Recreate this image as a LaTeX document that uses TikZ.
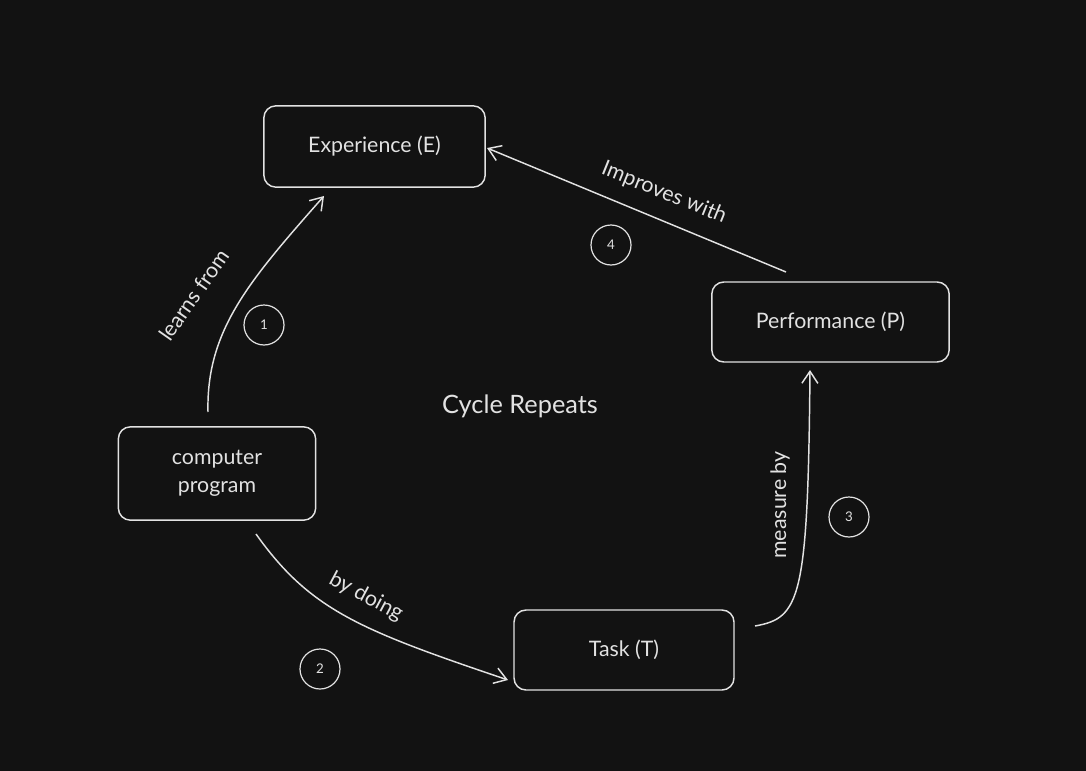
\documentclass[tikz,border=0pt]{standalone}
\usepackage{fontspec}
\setmainfont{Lato}
\usepackage{tikz}
\usetikzlibrary{arrows.meta}
\definecolor{bgdark}{HTML}{121212}
\definecolor{inkl}{HTML}{E2E2E2}
\tikzset{
  box/.style={draw=inkl,line width=1.1pt,rounded corners=9pt,text=inkl,align=center,font=\fontsize{16}{21}\selectfont},
  marker/.style={draw=inkl,circle,line width=0.9pt,minimum size=30pt,inner sep=0pt,text=inkl,font=\fontsize{10}{12}\selectfont},
  link/.style={draw=inkl,line width=1.1pt,-{Straight Barb[length=9pt,width=12pt]}},
  tag/.style={text=inkl,font=\fontsize{16}{19}\selectfont,inner sep=0pt}
}
\begin{document}
\begin{tikzpicture}[x=0.75pt,y=0.75pt,yscale=-1,xscale=1]
\fill[bgdark] (0,0) rectangle (1086,771);
\useasboundingbox (0,0) rectangle (1086,771);
% boxes
\node[box,minimum width=166pt,minimum height=61pt] (exp) at (374.5,146.5) {Experience (E)};
\node[box,minimum width=178pt,minimum height=60pt] (perf) at (830.5,322) {Performance (P)};
\node[box,minimum width=148pt,minimum height=70pt] (prog) at (217,473.5) {computer\\program};
\node[box,minimum width=165pt,minimum height=60pt] (task) at (624,650) {Task (T)};
\node[tag,font=\fontsize{19}{23}\selectfont] (cyc) at (520,406) {Cycle Repeats};
% step markers
\node[marker] (s1) at (264,325) {1};
\node[marker] (s2) at (320,669) {2};
\node[marker] (s3) at (849,517) {3};
\node[marker] (s4) at (611,245) {4};
% ends of connectors
\coordinate (p1) at (208,412);
\coordinate (e1) at (324,196);
\coordinate (p2) at (256,534);
\coordinate (t2) at (508,680);
\coordinate (t3) at (755,626);
\coordinate (f3) at (810,370);
\coordinate (f4) at (786,272);
\coordinate (e4) at (487,148);
% connectors
\draw[link] (p1) .. controls (206,330) and (250,280) .. (e1);
\draw[link] (p2) .. controls (310,610) and (360,630) .. (t2);
\draw[link] (t3) .. controls (800,618) and (808,600) .. (f3);
\draw[link] (f4) -- (e4);
% labels
\node[tag,rotate=55] (l1) at (194,295) {learns from};
\node[tag,rotate=-28] (l2) at (366,597) {by doing};
\node[tag,rotate=90] (l3) at (780,505) {measure by};
\node[tag,rotate=-22] (l4) at (664,193) {Improves with};
\end{tikzpicture}
\end{document}
